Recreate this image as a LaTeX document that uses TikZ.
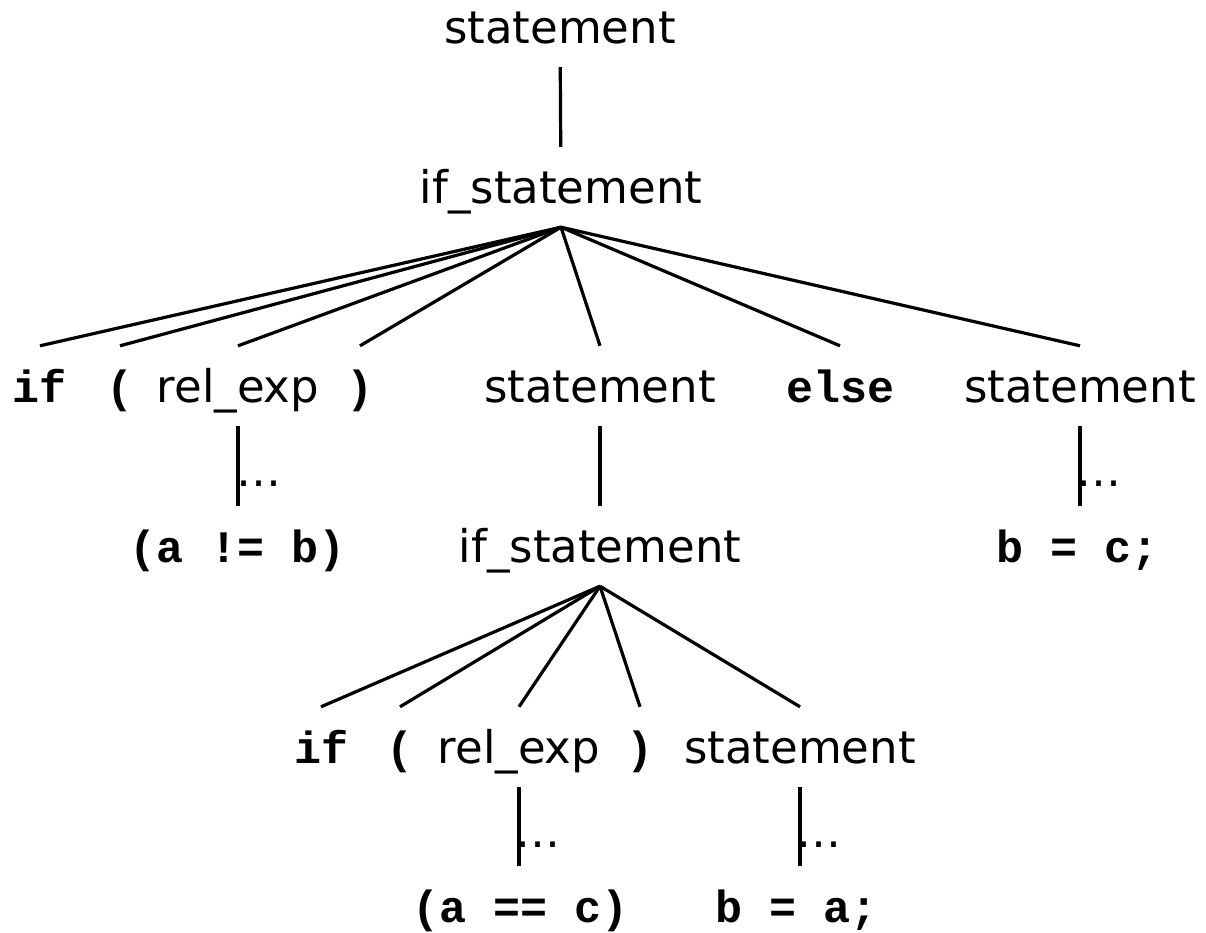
\documentclass[tikz,border=0pt]{standalone}
\usepackage{fontspec}
\setmainfont{DejaVu Sans}
\newfontfamily\codefont{Liberation Mono}

\tikzset{
  % every label sits on its baseline; the fixed height/depth give the
  % points where the tree edges meet it
  lbl/.style={inner sep=0pt, text height=56pt, text depth=24pt, anchor=base},
  nonterm/.style={lbl, font=\fontsize{45}{54}\selectfont},
  token/.style={lbl, font=\codefont\bfseries\fontsize{45}{54}\selectfont},
  more/.style={inner sep=0pt, anchor=base west, font=\fontsize{45}{54}\selectfont},
  edge/.style={line width=3.2pt},
}

\begin{document}
\begin{tikzpicture}[x=1pt, y=-1pt]
  \useasboundingbox (0,0) rectangle (1206,932);
  \fill[white] (0,0) rectangle (1206,932);

  % root
  \node[nonterm] (root) at (560,43) {statement};
  \node[nonterm] (ifA) at (561,203) {if\_statement};

  % children of the outer if_statement
  \node[token]   (ifkwA)  at (40,402)   {if};
  \node[token]   (lpA)    at (120,402)  {(};
  \node[nonterm] (relA)   at (238,402)  {rel\_exp};
  \node[token]   (rpA)    at (360,402)  {)};
  \node[nonterm] (thenA)  at (600,402)  {statement};
  \node[token]   (elseA)  at (840,402)  {else};
  \node[nonterm] (elseSt) at (1080,402) {statement};

  % third row
  \node[token]   (condA) at (238,562)  {(a != b)};
  \node[nonterm] (ifB)   at (600,562)  {if\_statement};
  \node[token]   (asgC)  at (1077,562) {b = c;};

  % children of the inner if_statement
  \node[token]   (ifkwB) at (321,763) {if};
  \node[token]   (lpB)   at (400,763) {(};
  \node[nonterm] (relB)  at (519,763) {rel\_exp};
  \node[token]   (rpB)   at (640,763) {)};
  \node[nonterm] (thenB) at (800,763) {statement};

  % bottom row
  \node[token] (condB) at (521,922) {(a == c)};
  \node[token] (asgA)  at (797,922) {b = a;};

  % edges
  \draw[edge] (root) -- (ifA);
  \foreach \c in {ifkwA,lpA,relA,rpA,thenA,elseA,elseSt}
    \draw[edge] (ifA.south) -- (\c.north);
  \draw[edge] (thenA) -- (ifB);
  \foreach \c in {ifkwB,lpB,relB,rpB,thenB}
    \draw[edge] (ifB.south) -- (\c.north);

  % elided derivations
  \draw[edge] (relA.south)   -- (relA.south   |- condA.north);
  \draw[edge] (elseSt.south) -- (elseSt.south |- asgC.north);
  \draw[edge] (relB.south)   -- (relB.south   |- condB.north);
  \draw[edge] (thenB.south)  -- (thenB.south  |- asgA.north);

  \node[more] (dotsA) at (236,486)  {…};
  \node[more] (dotsC) at (1076,486) {…};
  \node[more] (dotsB) at (515,847)  {…};
  \node[more] (dotsD) at (796,847)  {…};
\end{tikzpicture}
\end{document}
